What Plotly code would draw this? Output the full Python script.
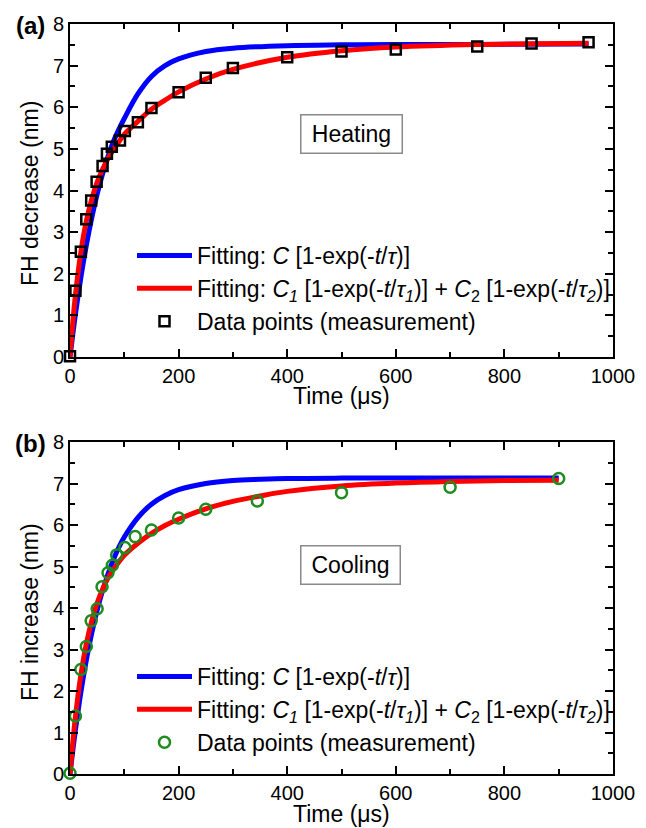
import plotly.graph_objects as go

# ---------------- data ----------------
# Panel (a) Heating
t_meas_a = [0, 10, 20, 30, 39, 49, 60, 68, 77, 92, 101, 125, 150, 200, 250, 300, 400, 500, 600, 750, 850, 955]
y_meas_a = [0.02, 1.59, 2.53, 3.31, 3.76, 4.21, 4.59, 4.88, 5.05, 5.20, 5.43, 5.64, 5.98, 6.36, 6.71, 6.94, 7.20, 7.34, 7.39, 7.46, 7.53, 7.56]

t_fit_a = [0, 5, 10, 20, 30, 40, 50, 60, 70, 80, 90, 100, 125, 150, 175, 200, 250, 300, 400, 500, 600, 750, 955]
blue_a = [0, 0.53, 1.03, 1.91, 2.68, 3.34, 3.91, 4.40, 4.82, 5.18, 5.47, 5.73, 6.32, 6.74, 7.00, 7.16, 7.34, 7.42, 7.48, 7.50, 7.51, 7.51, 7.52]
red_a = [0, 0.81, 1.49, 2.52, 3.26, 3.79, 4.20, 4.51, 4.77, 4.98, 5.17, 5.35, 5.66, 5.95, 6.17, 6.37, 6.68, 6.91, 7.20, 7.36, 7.45, 7.51, 7.54]

# Panel (b) Cooling
t_meas_b = [0, 10, 20, 30, 39, 50, 59, 70, 78, 86, 101, 120, 150, 200, 250, 345, 500, 700, 900]
y_meas_b = [0.02, 1.40, 2.52, 3.07, 3.69, 3.98, 4.51, 4.85, 5.03, 5.28, 5.46, 5.72, 5.88, 6.17, 6.38, 6.58, 6.78, 6.91, 7.12]

t_fit_b = [0, 5, 10, 20, 30, 40, 50, 60, 70, 80, 90, 100, 125, 150, 175, 200, 250, 300, 350, 400, 500, 600, 700, 800, 900]
blue_b = [0, 0.55, 1.06, 1.97, 2.74, 3.39, 3.95, 4.42, 4.82, 5.17, 5.46, 5.71, 6.18, 6.50, 6.71, 6.85, 7.00, 7.07, 7.10, 7.12, 7.13, 7.13, 7.13, 7.13, 7.13]
red_b = [0, 0.74, 1.38, 2.39, 3.13, 3.69, 4.12, 4.45, 4.72, 4.93, 5.11, 5.27, 5.56, 5.80, 5.99, 6.14, 6.39, 6.57, 6.70, 6.81, 6.94, 7.01, 7.05, 7.07, 7.08]

x_ticks = [0, 200, 400, 600, 800, 1000]
y_ticks = [0, 1, 2, 3, 4, 5, 6, 7, 8]

name_single = "Fitting: <i>C</i> [1-exp(-<i>t</i>/<i>τ</i>)]"
name_double = ("Fitting: <i>C<sub>1</sub></i> [1-exp(-<i>t</i>/<i>τ<sub>1</sub></i>)] + "
               "<i>C</i><sub>2</sub> [1-exp(-<i>t</i>/<i>τ<sub>2</sub></i>)]")
name_meas = "Data points (measurement)"

FONT = "Liberation Sans, Arial, sans-serif"
BLUE = "#0000FF"
RED = "#FF0000"
GREEN = "#1E8C1E"

fig = go.Figure()

# panel (a)
fig.add_trace(go.Scatter(x=t_fit_a, y=blue_a, mode="lines", line=dict(color=BLUE, width=5, shape="spline"),
                         name=name_single, xaxis="x", yaxis="y", legend="legend"))
fig.add_trace(go.Scatter(x=t_fit_a, y=red_a, mode="lines", line=dict(color=RED, width=5, shape="spline"),
                         name=name_double, xaxis="x", yaxis="y", legend="legend"))
fig.add_trace(go.Scatter(x=t_meas_a, y=y_meas_a, mode="markers",
                         marker=dict(symbol="square-open", size=10, color="black", line=dict(width=2.5, color="black")),
                         name=name_meas, xaxis="x", yaxis="y", legend="legend", cliponaxis=False))

# panel (b)
fig.add_trace(go.Scatter(x=t_fit_b, y=blue_b, mode="lines", line=dict(color=BLUE, width=5, shape="spline"),
                         name=name_single, xaxis="x2", yaxis="y2", legend="legend2"))
fig.add_trace(go.Scatter(x=t_fit_b, y=red_b, mode="lines", line=dict(color=RED, width=5, shape="spline"),
                         name=name_double, xaxis="x2", yaxis="y2", legend="legend2"))
fig.add_trace(go.Scatter(x=t_meas_b, y=y_meas_b, mode="markers",
                         marker=dict(symbol="circle-open", size=11, color=GREEN, line=dict(width=2.5, color=GREEN)),
                         name=name_meas, xaxis="x2", yaxis="y2", legend="legend2", cliponaxis=False))

W, H = 646, 828
xdom = [70 / W, 613 / W]
ydom_a = [1 - 357 / H, 1 - 24 / H]
ydom_b = [1 - 774 / H, 1 - 442 / H]

def xax(anchor):
    return dict(domain=xdom, anchor=anchor, range=[0, 1000], tickvals=x_ticks,
                ticktext=[str(v) for v in x_ticks], ticks="inside", ticklen=8, tickwidth=2,
                tickcolor="black", showline=True, linecolor="black", linewidth=2, mirror="ticks",
                showgrid=False, zeroline=False, automargin=False,
                tickfont=dict(size=20, color="black", family=FONT),
                minor=dict(dtick=100, tick0=0, ticks="inside", ticklen=5, tickwidth=2, tickcolor="black", showgrid=False))

def yax(anchor, dom):
    return dict(domain=dom, anchor=anchor, range=[0, 8], tickvals=y_ticks,
                ticktext=[str(v) for v in y_ticks], ticks="inside", ticklen=8, tickwidth=2,
                tickcolor="black", showline=True, linecolor="black", linewidth=2, mirror="ticks",
                showgrid=False, zeroline=False, automargin=False,
                tickfont=dict(size=20, color="black", family=FONT),
                minor=dict(dtick=0.5, tick0=0, ticks="inside", ticklen=5, tickwidth=2, tickcolor="black", showgrid=False))

legend_common = dict(xref="paper", yref="paper", xanchor="left", yanchor="top",
                     bgcolor="rgba(0,0,0,0)", borderwidth=0, itemwidth=55,
                     font=dict(size=23, color="black", family=FONT), tracegroupgap=0)

fig.update_layout(
    width=W, height=H, margin=dict(l=0, r=0, t=0, b=0, autoexpand=False),
    paper_bgcolor="white", plot_bgcolor="white",
    font=dict(family=FONT, color="black"),
    xaxis=xax("y"), yaxis=yax("x", ydom_a),
    xaxis2=xax("y2"), yaxis2=yax("x2", ydom_b),
    legend=dict(x=132 / W, y=1 - 234 / H, **legend_common),
    legend2=dict(x=132 / W, y=1 - 655 / H, **legend_common),
    showlegend=True,
)

ann = []
# panel labels
ann.append(dict(text="<b>(a)</b>", x=30 / W, y=1 - 25 / H, xref="paper", yref="paper",
                showarrow=False, font=dict(size=24, family=FONT, color="black"), xanchor="center", yanchor="middle"))
ann.append(dict(text="<b>(b)</b>", x=30 / W, y=1 - 443 / H, xref="paper", yref="paper",
                showarrow=False, font=dict(size=24, family=FONT, color="black"), xanchor="center", yanchor="middle"))
# axis titles
ann.append(dict(text="FH decrease (nm)", x=30 / W, y=1 - 194 / H, xref="paper", yref="paper", textangle=-90,
                showarrow=False, font=dict(size=23, family=FONT, color="black"), xanchor="center", yanchor="middle"))
ann.append(dict(text="FH increase (nm)", x=30 / W, y=1 - 612 / H, xref="paper", yref="paper", textangle=-90,
                showarrow=False, font=dict(size=23, family=FONT, color="black"), xanchor="center", yanchor="middle"))
ann.append(dict(text="Time (μs)", x=(70 + 613) / 2 / W, y=1 - 396 / H, xref="paper", yref="paper",
                showarrow=False, font=dict(size=23, family=FONT, color="black"), xanchor="center", yanchor="middle"))
ann.append(dict(text="Time (μs)", x=(70 + 613) / 2 / W, y=1 - 814 / H, xref="paper", yref="paper",
                showarrow=False, font=dict(size=23, family=FONT, color="black"), xanchor="center", yanchor="middle"))
# boxed labels
ann.append(dict(text="Heating", x=519, y=5.35, xref="x", yref="y", showarrow=False,
                font=dict(size=23, family=FONT, color="black"), bordercolor="#8a8a8a", borderwidth=1.5,
                borderpad=1, bgcolor="white", width=98, height=35))
ann.append(dict(text="Cooling", x=517, y=5.04, xref="x2", yref="y2", showarrow=False,
                font=dict(size=23, family=FONT, color="black"), bordercolor="#8a8a8a", borderwidth=1.5,
                borderpad=1, bgcolor="white", width=96, height=35))
fig.update_layout(annotations=ann)

fig.write_html("out.html")
